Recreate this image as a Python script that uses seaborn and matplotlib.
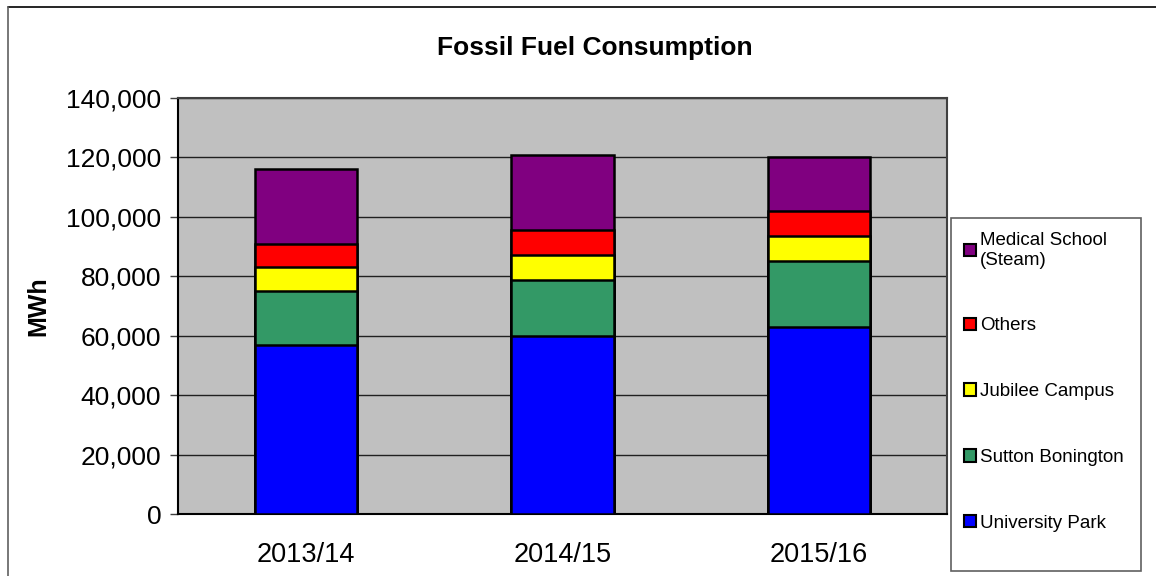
import matplotlib
matplotlib.use("Agg")
import matplotlib.pyplot as plt
import matplotlib.ticker as mticker
from matplotlib.lines import Line2D
from matplotlib.patches import Patch, Rectangle
import numpy as np
import pandas as pd
import seaborn as sns

years = ["2013/14", "2014/15", "2015/16"]
university_park = [57000, 59900, 62900]
sutton_bonington = [18000, 18850, 22200]
jubilee_campus = [8000, 8400, 8400]
others = [8000, 8400, 8400]
medical_school = [25000, 25250, 18200]

series_names = ["University Park", "Sutton Bonington", "Jubilee Campus", "Others", "Medical School\n(Steam)"]
series_values = [university_park, sutton_bonington, jubilee_campus, others, medical_school]
colors = ["#0000FF", "#339966", "#FFFF00", "#FF0000", "#800080"]

sns.set_style("white")
plt.rcParams["font.family"] = ["Liberation Sans", "DejaVu Sans"]
plt.rcParams["text.color"] = "black"
plt.rcParams["axes.labelcolor"] = "black"
plt.rcParams["xtick.color"] = "black"
plt.rcParams["ytick.color"] = "black"

W, H = 1156, 576
fig = plt.figure(figsize=(W / 100, H / 100), dpi=100)
ax = fig.add_axes([178/W, 62/H, (947-178)/W, (514-98)/H])
ax.set_facecolor("#C0C0C0")

cum = np.cumsum(np.array(series_values, dtype=float), axis=0)
# draw from the top cumulative layer down so lower layers overlay
for i in range(len(series_names) - 1, -1, -1):
    df = pd.DataFrame({"year": years, "value": cum[i]})
    sns.barplot(data=df, x="year", y="value", color=colors[i], saturation=1,
                width=0.4, edgecolor="black", linewidth=1.8, ax=ax, zorder=3)

ax.set_xlim(-0.5, 2.5)
ax.set_ylim(0, 140000)
ax.yaxis.set_major_locator(mticker.MultipleLocator(20000))
ax.yaxis.set_major_formatter(mticker.FuncFormatter(lambda v, p: f"{int(v):,}"))
ax.grid(axis="y", color="#202020", linewidth=1.0, zorder=1)
ax.set_axisbelow(True)

ax.set_xticks([0, 1, 2])
ax.set_xticklabels(years)
ax.set_xticks([-0.5, 0.5, 1.5, 2.5], minor=True)
ax.tick_params(axis="x", which="major", length=0, pad=20, labelsize=19.5, labelcolor="black")
ax.tick_params(axis="x", which="minor", length=6, width=1, color="#404040", direction="out")
ax.tick_params(axis="y", which="major", length=6, width=1, color="#404040", direction="out",
               pad=6, labelsize=19, left=True, labelcolor="black")

ax.set_xlabel("")
ax.set_ylabel("MWh", fontsize=18, fontweight="bold", color="black")
ax.yaxis.set_label_coords((50 - 178) / (947 - 178), 0.5)

for side in ["left", "bottom"]:
    ax.spines[side].set_color("black")
    ax.spines[side].set_linewidth(1.5)
for side in ["top", "right"]:
    ax.spines[side].set_visible(True)
    ax.spines[side].set_color("#404040")
    ax.spines[side].set_linewidth(1.5)

fig.text(595/W, 1 - 48/H, "Fossil Fuel Consumption", ha="center", va="center",
         fontsize=19, fontweight="bold", color="black")

# legend box
fig.add_artist(Rectangle((951/W, 1 - 571/H), (1141-951)/W, (571-218)/H,
                         transform=fig.transFigure, facecolor="white",
                         edgecolor="#606060", linewidth=1.2, zorder=2))
handles = [Patch(facecolor=colors[i], edgecolor="black", linewidth=1.5, label=series_names[i])
           for i in range(len(series_names) - 1, -1, -1)]
leg = fig.legend(handles=handles, loc="upper left",
                 bbox_to_anchor=(964/W, 1 - 232/H),
                 frameon=False, fontsize=13.5, handlelength=0.65, handleheight=0.65,
                 handletextpad=0.2, labelspacing=2.6, borderpad=0, borderaxespad=0,
                 labelcolor="black")
leg.set_zorder(3)

# outer chart border
fig.add_artist(Line2D([8/W, 1.0], [1 - 7/H, 1 - 7/H], transform=fig.transFigure,
                      color="black", linewidth=1.2))
fig.add_artist(Line2D([8/W, 8/W], [0, 1 - 7/H], transform=fig.transFigure,
                      color="#606060", linewidth=1.2))

fig.savefig("out.png", dpi=100)
